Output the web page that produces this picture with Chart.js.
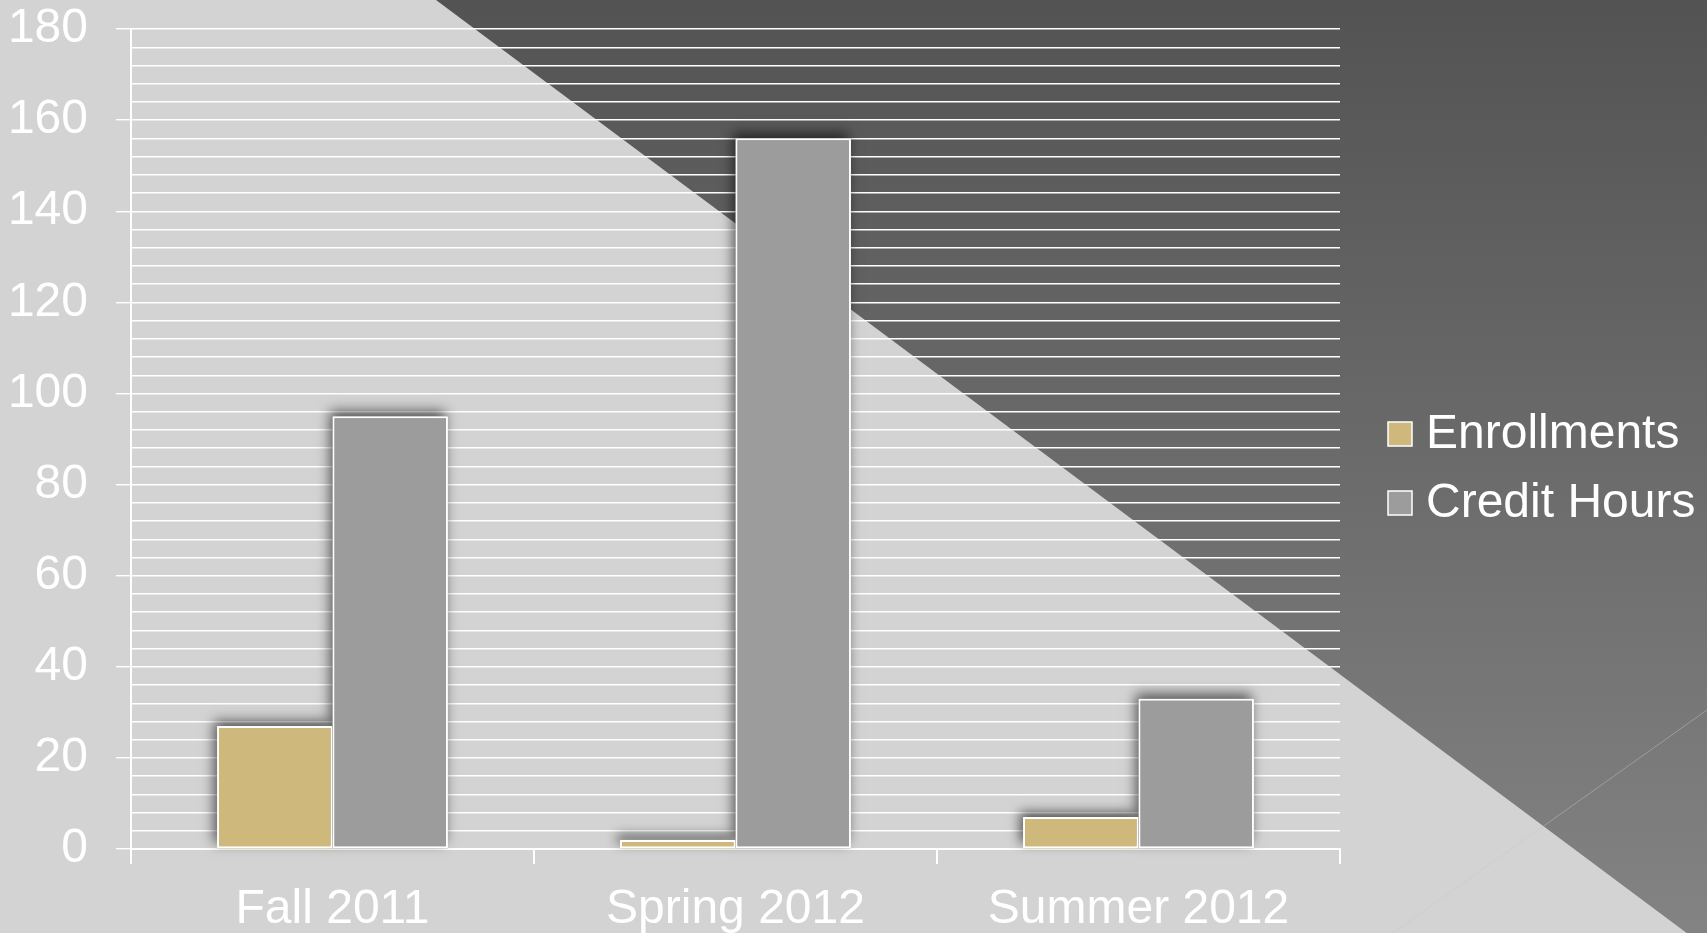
<!DOCTYPE html>
<html lang="en">
<head>
    <meta charset="UTF-8">
    <title>Enrollments and Credit Hours</title>
    <script src="https://cdn.jsdelivr.net/npm/chart.js@4.4.1/dist/chart.umd.min.js"></script>
    <style>
        html, body { margin: 0; padding: 0; background: #d3d3d3; overflow: hidden; }
        canvas { display: block; }
    </style>
</head>
<body>
    <canvas id="myChart" width="1707" height="933"></canvas>
    <script>
        const terms = ['Fall 2011', 'Spring 2012', 'Summer 2012'];
        const enrollments = [27, 2, 7];
        const creditHours = [95, 156, 33];
        const yMax = 180;
        const labelStep = 20;   // labelled ticks
        const gridStep = 4;     // white rule lines

        const textColor = '#ffffff';
        const fontSize = 48;
        Chart.defaults.font.family = 'Arial, "Liberation Sans", sans-serif';

        // slide backdrop: light gray with dark wedge in the upper right
        const backdrop = {
            id: 'backdrop',
            beforeDraw: (chart) => {
                const ctx = chart.ctx;
                const w = chart.width, h = chart.height;
                ctx.save();
                ctx.fillStyle = '#d3d3d3';
                ctx.fillRect(0, 0, w, h);
                const g = ctx.createLinearGradient(0, 0, 0, h);
                g.addColorStop(0, '#535353');
                g.addColorStop(1, '#838383');
                ctx.fillStyle = g;
                ctx.beginPath();
                ctx.moveTo(436, 0);
                ctx.lineTo(w, 0);
                ctx.lineTo(w, h);
                ctx.lineTo(436 + h / 0.746, h);
                ctx.closePath();
                ctx.fill();
                ctx.strokeStyle = 'rgba(200,200,200,0.45)';
                ctx.lineWidth = 1;
                ctx.beginPath();
                ctx.moveTo(1393, h);
                ctx.lineTo(w, 710);
                ctx.stroke();
                ctx.restore();
            }
        };

        // soft shadow behind each bar, painted before the bars themselves
        const barShadow = {
            id: 'barShadow',
            beforeDatasetsDraw: (chart) => {
                const ctx = chart.ctx;
                ctx.save();
                ctx.shadowColor = 'rgba(0,0,0,0.6)';
                ctx.shadowBlur = 12;
                ctx.shadowOffsetX = -3;
                ctx.shadowOffsetY = -5;
                chart.data.datasets.forEach((ds, i) => {
                    chart.getDatasetMeta(i).data.forEach((bar) => {
                        const p = bar.getProps(['x', 'y', 'base', 'width'], true);
                        ctx.fillStyle = ds.backgroundColor;
                        ctx.fillRect(p.x - p.width / 2, p.y, p.width, p.base - p.y);
                    });
                });
                ctx.restore();
            }
        };

        // legend on the right, drawn by hand
        const sideLegend = {
            id: 'sideLegend',
            afterDraw: (chart) => {
                const ctx = chart.ctx;
                const x = 1388, rows = [434, 503], box = 24;
                ctx.save();
                ctx.font = fontSize + 'px Arial, "Liberation Sans", sans-serif';
                ctx.textBaseline = 'middle';
                chart.data.datasets.forEach((ds, i) => {
                    const y = rows[i];
                    ctx.fillStyle = ds.backgroundColor;
                    ctx.fillRect(x, y - box / 2, box, box);
                    ctx.strokeStyle = '#ffffff';
                    ctx.lineWidth = 1.5;
                    ctx.strokeRect(x, y - box / 2, box, box);
                    ctx.fillStyle = textColor;
                    ctx.fillText(ds.label, x + 38, y + 1);
                });
                ctx.restore();
            }
        };

        const ctx = document.getElementById('myChart').getContext('2d');
        const myChart = new Chart(ctx, {
            type: 'bar',
            data: {
                labels: terms,
                datasets: [{
                    label: 'Enrollments',
                    data: enrollments,
                    backgroundColor: '#cfb87c',
                    borderColor: '#ffffff',
                    borderWidth: 2,
                    borderSkipped: false
                }, {
                    label: 'Credit Hours',
                    data: creditHours,
                    backgroundColor: '#9c9c9c',
                    borderColor: '#ffffff',
                    borderWidth: 2,
                    borderSkipped: false
                }]
            },
            plugins: [backdrop, barShadow, sideLegend],
            options: {
                responsive: false,
                animation: false,
                layout: {
                    padding: { left: 0, right: 367, top: 29, bottom: 0 }
                },
                datasets: {
                    bar: { categoryPercentage: 0.573, barPercentage: 1.0 }
                },
                plugins: {
                    legend: { display: false },
                    tooltip: { enabled: false }
                },
                scales: {
                    x: {
                        afterFit: (scale) => { scale.height = 84; },
                        grid: {
                            drawOnChartArea: false,
                            color: '#ffffff',
                            tickLength: 15,
                            lineWidth: 2
                        },
                        border: { color: '#ffffff', width: 2 },
                        ticks: {
                            color: textColor,
                            padding: 17,
                            font: { size: fontSize }
                        }
                    },
                    y: {
                        min: 0,
                        max: yMax,
                        afterFit: (scale) => {
                            scale.width = 131;
                            scale.paddingTop = 0;
                            scale.paddingBottom = 0;
                        },
                        grid: {
                            color: '#ffffff',
                            lineWidth: 1.4,
                            tickLength: 15,
                            tickColor: (c) => (c.tick && c.tick.value % labelStep === 0) ? '#ffffff' : 'rgba(0,0,0,0)'
                        },
                        border: { color: '#ffffff', width: 2 },
                        ticks: {
                            stepSize: gridStep,
                            autoSkip: false,
                            color: textColor,
                            padding: 28,
                            font: { size: fontSize },
                            callback: function(value) {
                                return value % labelStep === 0 ? value : '';
                            }
                        }
                    }
                }
            }
        });
    </script>
</body>
</html>
